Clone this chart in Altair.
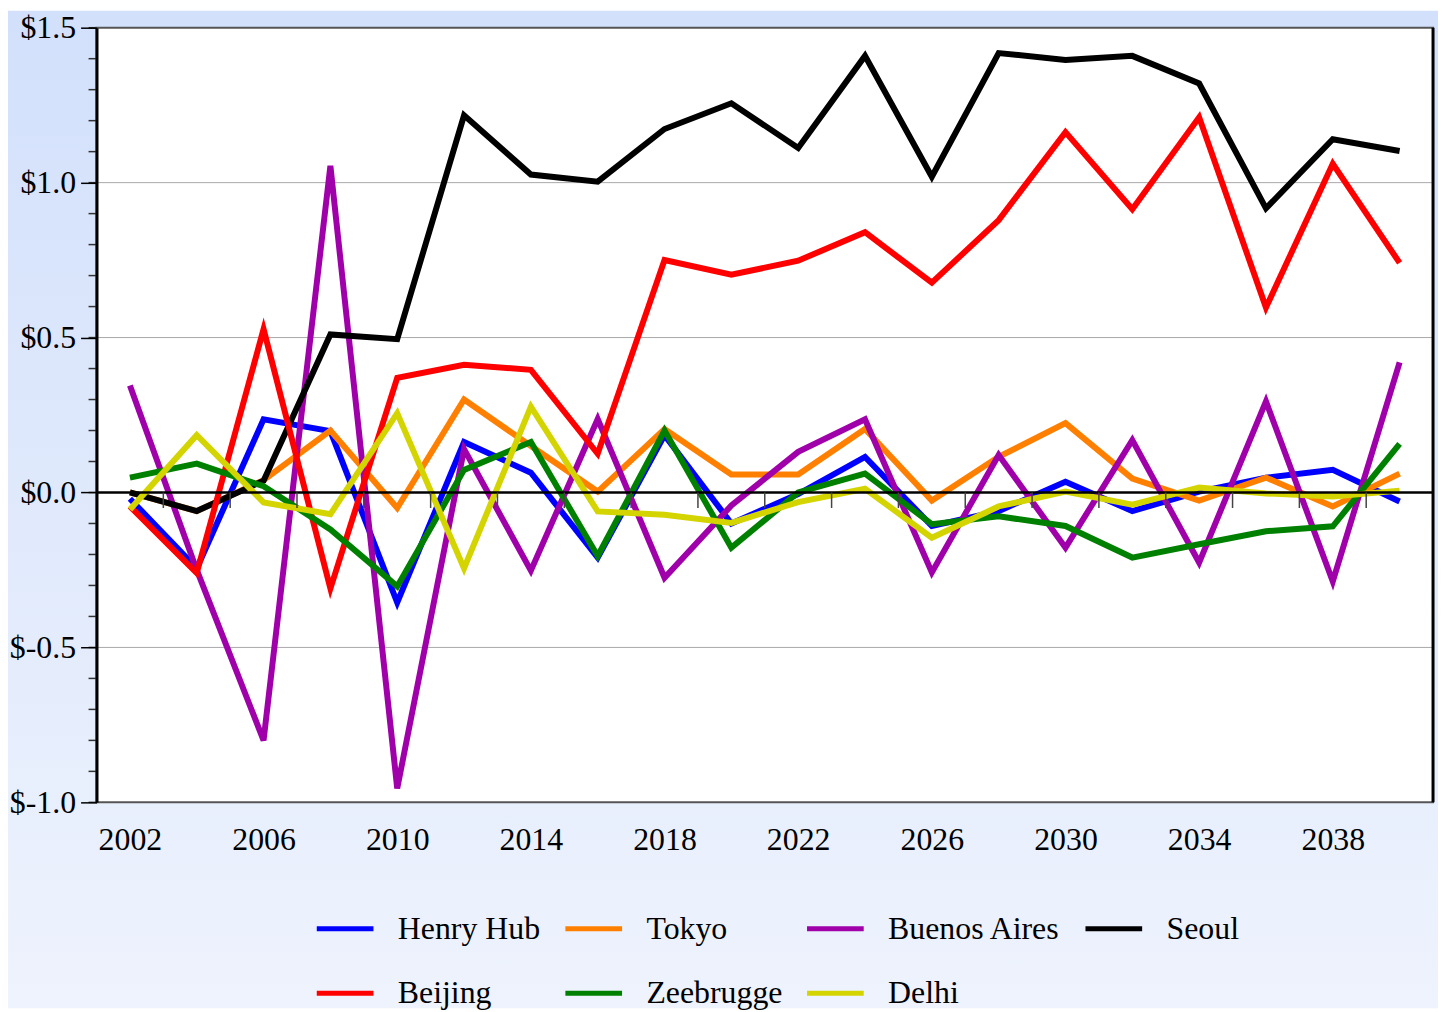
import altair as alt
import pandas as pd

years = list(range(2002, 2041, 2))
series_names = ["Henry Hub", "Tokyo", "Buenos Aires", "Seoul", "Beijing", "Zeebrugge", "Delhi"]
series_colors = ["#0000ff", "#ff8000", "#a000aa", "#000000", "#ff0000", "#008000", "#d4d400"]

henry_hub = [-0.02, -0.245, 0.236, 0.198, -0.355, 0.163, 0.064, -0.21, 0.185, -0.10,
             -0.005, 0.115, -0.108, -0.06, 0.035, -0.06, 0.003, 0.048, 0.073, -0.029]
tokyo = [0.0, -0.06, 0.04, 0.2, -0.05, 0.3, 0.15, 0.003, 0.205, 0.058,
         0.058, 0.205, -0.026, 0.115, 0.224, 0.045, -0.026, 0.048, -0.045, 0.061]
buenos_aires = [0.345, -0.25, -0.80, 1.054, -0.955, 0.14, -0.252, 0.237, -0.275, -0.042,
                0.131, 0.236, -0.258, 0.121, -0.178, 0.169, -0.226, 0.294, -0.287, 0.42]
seoul = [0.0, -0.06, 0.038, 0.51, 0.495, 1.217, 1.026, 1.003, 1.173, 1.256,
         1.112, 1.409, 1.019, 1.418, 1.396, 1.409, 1.32, 0.917, 1.14, 1.102]
beijing = [-0.045, -0.26, 0.527, -0.31, 0.37, 0.412, 0.396, 0.125, 0.75, 0.703,
           0.748, 0.84, 0.677, 0.879, 1.163, 0.914, 1.211, 0.597, 1.061, 0.741]
zeebrugge = [0.048, 0.093, 0.02, -0.119, -0.303, 0.073, 0.163, -0.205, 0.2, -0.178,
             0.0, 0.061, -0.102, -0.077, -0.108, -0.21, -0.167, -0.125, -0.109, 0.157]
delhi = [-0.055, 0.185, -0.032, -0.07, 0.256, -0.245, 0.277, -0.061, -0.072, -0.098,
         -0.031, 0.012, -0.146, -0.045, 0.003, -0.039, 0.016, -0.003, -0.013, 0.006]

x_label_years = [2002, 2006, 2010, 2014, 2018, 2022, 2026, 2030, 2034, 2038]
zero_tick_years = list(range(2003, 2040, 2))
y_major = [-1.0, -0.5, 0.0, 0.5, 1.0, 1.5]
y_grid = [-0.5, 0.5, 1.0]
y_minor = [round(-1.0 + 0.1 * i, 1) for i in range(26)]

all_series = [henry_hub, tokyo, buenos_aires, seoul, beijing, zeebrugge, delhi]
rows = []
for name, vals in zip(series_names, all_series):
    for yr, v in zip(years, vals):
        rows.append({"year": yr, "value": v, "series": name})
df = pd.DataFrame(rows)

W, H = 1344, 779
PAD_L, PAD_T, PAD_R, PAD_B = 89, 17, 5, 207
FONT = "Liberation Serif"

xscale = alt.Scale(domain=[2001, 2041], nice=False, zero=False)
yscale = alt.Scale(domain=[-1.0, 1.5], nice=False, zero=False)

one = pd.DataFrame({"a": [0]})

bg = alt.Chart(one).mark_rect(
    fill=alt.Gradient(
        gradient="linear",
        stops=[alt.GradientStop(color="#d2e0fb", offset=0),
               alt.GradientStop(color="#eef3fd", offset=1)],
        x1=0, x2=0, y1=0, y2=1,
    )
).encode(
    x=alt.value(-PAD_L), x2=alt.value(W + PAD_R),
    y=alt.value(-PAD_T), y2=alt.value(H + PAD_B),
)

plot_bg = alt.Chart(one).mark_rect(fill="white").encode(
    x=alt.value(0), x2=alt.value(W), y=alt.value(0), y2=alt.value(H)
)

grid = alt.Chart(pd.DataFrame({"g": y_grid})).mark_rule(color="#a8a8a8", strokeWidth=1).encode(
    y=alt.Y("g:Q", scale=yscale)
)

lines = alt.Chart(df).mark_line(strokeWidth=6).encode(
    x=alt.X("year:Q", scale=xscale,
            axis=alt.Axis(values=x_label_years, format="d", title=None, ticks=False, tickSize=0,
                          domain=False, grid=False, labelFont=FONT, labelFontSize=32,
                          labelColor="black", labelPadding=22, labelFlush=False, zindex=1)),
    y=alt.Y("value:Q", scale=yscale,
            axis=alt.Axis(values=y_major, title=None, grid=False, tickSize=16, tickColor="black",
                          tickWidth=1.5, domainColor="black", domainWidth=3, labelFont=FONT,
                          labelFontSize=32, labelColor="black", labelPadding=5, zindex=1,
                          labelExpr="(datum.value < 0 ? '$-' : '$') + format(abs(datum.value), '.1f')")),
    color=alt.Color("series:N", sort=series_names,
                    scale=alt.Scale(domain=series_names, range=series_colors),
                    legend=alt.Legend(title=None, orient="none", legendX=219, legendY=875,
                                      direction="horizontal", columns=4, symbolType="stroke",
                                      symbolSize=3249, symbolStrokeWidth=5, labelFont=FONT,
                                      labelFontSize=32, labelColor="black", labelOffset=22,
                                      labelLimit=0, columnPadding=14, rowPadding=18, padding=0)),
    order=alt.Order("year:Q"),
)

zero_line = alt.Chart(one).mark_rule(color="black", strokeWidth=2.5).encode(
    y=alt.datum(0, scale=yscale)
)

zero_ticks = alt.Chart(pd.DataFrame({"t": zero_tick_years})).mark_rule(
    color="#444444", strokeWidth=1.5
).encode(
    x=alt.X("t:Q", scale=xscale),
    y=alt.datum(0.0, scale=yscale),
    y2=alt.datum(-0.05),
)

minor_ticks = alt.Chart(pd.DataFrame({"m": y_minor})).mark_rule(
    color="#333333", strokeWidth=1.5
).encode(
    y=alt.Y("m:Q", scale=yscale),
    x=alt.value(-8), x2=alt.value(0),
)

border = alt.Chart(one).mark_rect(fill="transparent", stroke="#555555", strokeWidth=2).encode(
    x=alt.value(0), x2=alt.value(W), y=alt.value(0), y2=alt.value(H)
)

right_edge = alt.Chart(one).mark_rule(color="black", strokeWidth=3).encode(
    x=alt.value(W), y=alt.value(0), y2=alt.value(H)
)

chart = alt.layer(
    bg, plot_bg, grid, lines, zero_line, zero_ticks, minor_ticks, border, right_edge
).properties(
    width=W, height=H,
    autosize=alt.AutoSizeParams(type="none"),
    padding={"left": PAD_L, "top": PAD_T, "right": PAD_R, "bottom": PAD_B},
).configure_view(stroke=None)

chart.save("out.html", embed_options={"renderer": "svg", "actions": False})
